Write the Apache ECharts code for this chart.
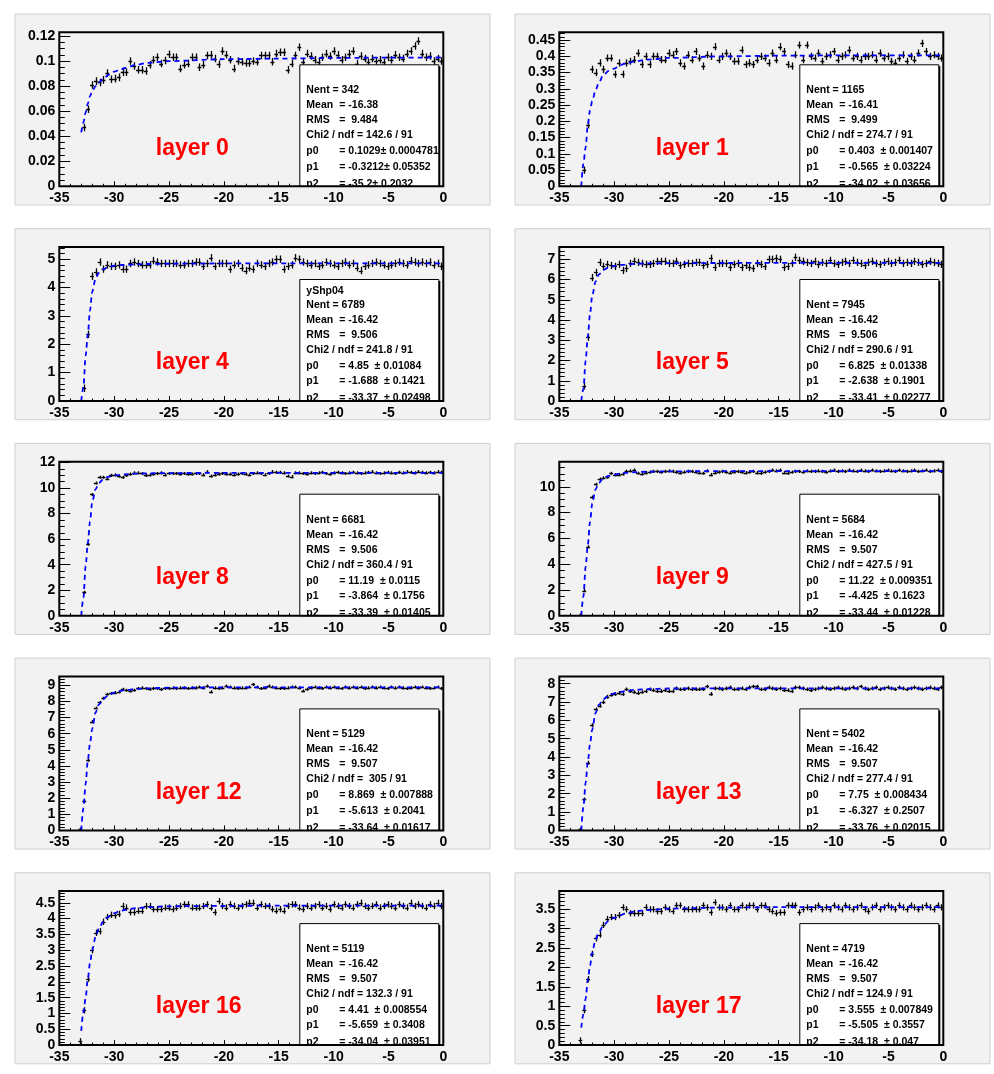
<!DOCTYPE html>
<html><head><meta charset="utf-8">
<script src="https://cdn.jsdelivr.net/npm/echarts@6/dist/echarts.min.js"></script>
<style>html,body{margin:0;padding:0;background:#fff}#c{width:994px;height:1074px}</style>
</head><body><div id="c"></div>
<script>
// ---------- histogram binning ----------
const binWidth = 0.35;
const firstBinCenter = -33.075;   // first listed bin (bins of 0.35 over [-35,0])

// ---------- panel titles ----------
const layerNames = ['layer 0','layer 1','layer 4','layer 5','layer 8','layer 9','layer 12','layer 13','layer 16','layer 17'];

// ---------- axis ranges ----------
const xTickLabels = ['-35','-30','-25','-20','-15','-10','-5','0'];
const yMax   = [0.123, 0.474, 5.43, 7.61, 12.07, 11.95, 9.55, 8.40, 4.87, 3.97];
const yStep  = [0.02, 0.05, 1, 1, 2, 2, 1, 1, 0.5, 0.5];
const yMinor = [4, 5, 5, 5, 4, 4, 5, 5, 5, 5];
const errBar = [0.003, 0.011, 0.13, 0.18, 0.12, 0.12, 0.09, 0.1, 0.1, 0.08];

// ---------- bin contents (bins from -33.075 to -0.175) ----------
const layer0Vals = [null,
 0.047,0.0615,0.081,0.084,0.083,0.085,0.0905,0.0855,0.086,0.087,
 0.091,0.091,0.1,0.096,0.093,0.093,0.092,0.097,0.101,0.103,
 0.098,0.1005,0.1055,0.103,0.103,0.094,0.097,0.098,0.103,0.103,
 0.095,0.097,0.1045,0.105,0.102,0.0975,0.108,0.105,0.101,0.094,
 0.1,0.0995,0.0985,0.0985,0.1,0.0995,0.1045,0.1045,0.1045,0.0995,
 0.106,0.107,0.107,0.093,0.098,0.1045,0.111,0.0995,0.106,0.104,
 0.101,0.099,0.103,0.106,0.104,0.108,0.105,0.101,0.103,0.106,
 0.108,0.098,0.104,0.102,0.099,0.102,0.1,0.101,0.099,0.103,
 0.101,0.105,0.103,0.102,0.106,0.108,0.112,0.116,0.106,0.103,
 0.104,0.1,0.102,0.1];
const layer1Vals = [null,
 0.05,0.19,0.36,0.35,0.38,0.36,0.395,0.395,0.345,0.38,
 0.345,0.38,0.385,0.39,0.41,0.375,0.4,0.375,0.4,0.4,
 0.39,0.39,0.41,0.405,0.415,0.38,0.37,0.405,0.39,0.415,
 0.395,0.37,0.405,0.4,0.43,0.39,0.4,0.41,0.4,0.385,
 0.385,0.42,0.375,0.38,0.375,0.39,0.4,0.395,0.38,0.41,
 0.39,0.43,0.415,0.375,0.37,0.405,0.435,0.39,0.435,0.4,
 0.395,0.41,0.385,0.4,0.405,0.415,0.39,0.4,0.405,0.42,
 0.395,0.4,0.39,0.4,0.4,0.405,0.39,0.41,0.395,0.4,
 0.385,0.38,0.395,0.405,0.385,0.4,0.39,0.41,0.44,0.415,
 0.4,0.405,0.4,0.395];
const layer4Vals = [null,
 0.45,2.35,4.4,4.55,4.9,4.65,4.8,4.75,4.75,4.8,
 4.65,4.65,4.85,4.9,4.85,4.8,4.8,4.8,4.95,4.9,
 4.85,4.85,4.85,4.85,4.85,4.8,4.8,4.85,4.85,4.9,
 4.9,4.75,4.85,5.05,4.75,4.85,4.85,4.85,4.65,4.8,
 4.85,4.7,4.6,4.7,4.65,4.85,4.8,4.75,4.85,4.9,
 5.0,5.0,4.65,4.75,4.8,5.05,5.0,4.9,4.85,4.8,
 4.85,4.75,4.8,4.9,4.85,4.8,4.75,4.85,4.9,4.8,
 4.85,4.7,4.6,4.75,4.8,4.85,4.9,4.85,4.8,4.75,
 4.8,4.85,4.9,4.85,4.8,4.95,4.9,4.85,4.9,4.85,
 4.9,4.8,4.85,4.75];
const layer5Vals = [null,
 0.75,3.15,6.1,6.35,6.85,6.65,6.75,6.7,6.65,6.75,
 6.45,6.55,6.8,6.9,6.85,6.8,6.75,6.75,6.8,6.9,
 6.9,6.9,6.8,6.8,6.9,6.7,6.75,6.8,6.8,6.85,
 6.85,6.7,6.75,7.05,6.6,6.8,6.8,6.8,6.6,6.75,
 6.8,6.6,6.7,6.6,6.55,6.8,6.75,6.65,7.0,7.0,
 7.05,7.0,6.6,6.65,6.8,7.1,6.95,6.9,6.85,6.8,
 6.9,6.75,6.85,6.8,6.95,6.8,6.75,6.85,6.9,6.8,
 6.95,6.85,6.8,6.7,6.85,6.9,6.8,6.75,6.85,6.9,
 6.8,6.85,6.95,6.8,6.85,6.8,6.9,6.85,6.75,6.8,
 6.9,6.85,6.8,6.75];
const layer8Vals = [null,
 1.83,5.6,9.5,10.4,10.85,10.85,10.75,11.0,11.05,10.95,
 10.85,11.0,11.1,11.2,11.2,11.15,11.0,11.05,11.1,11.15,
 11.2,11.05,11.15,11.15,11.15,11.1,11.15,11.1,11.1,11.15,
 11.15,11.05,11.3,10.95,11.05,11.1,11.15,11.1,11.1,11.05,
 11.1,11.15,11.1,11.05,11.15,11.2,11.15,11.05,11.15,11.3,
 11.25,11.25,11.2,10.95,10.9,11.2,11.2,11.15,11.1,11.2,
 11.15,11.2,11.25,11.15,11.1,11.2,11.25,11.2,11.15,11.2,
 11.25,11.2,11.15,11.2,11.25,11.3,11.2,11.15,11.2,11.25,
 11.2,11.15,11.25,11.2,11.3,11.25,11.2,11.3,11.25,11.2,
 11.25,11.2,11.3,11.25];
const layer9Vals = [0.05,
 1.95,5.35,9.2,10.2,10.6,10.7,10.75,11.05,10.95,10.95,
 11.0,11.2,11.25,11.3,11.05,11.0,11.1,11.15,11.2,11.2,
 11.15,11.2,11.25,11.2,11.15,11.1,11.15,11.2,11.2,11.15,
 11.1,11.05,11.25,10.95,11.1,11.15,11.2,11.15,11.1,11.15,
 11.2,11.15,11.1,11.15,11.2,11.1,11.05,11.15,11.2,11.3,
 11.25,11.3,11.1,11.05,11.15,11.2,11.2,11.15,11.25,11.2,
 11.2,11.25,11.2,11.15,11.25,11.3,11.2,11.25,11.2,11.3,
 11.25,11.2,11.3,11.25,11.2,11.3,11.25,11.2,11.25,11.3,
 11.25,11.2,11.3,11.25,11.2,11.25,11.3,11.2,11.25,11.3,
 11.2,11.25,11.3,11.2];
const layer12Vals = [0.08,
 1.8,4.35,6.75,7.6,7.95,8.2,8.45,8.5,8.55,8.6,
 8.75,8.7,8.65,8.7,8.8,8.85,8.8,8.75,8.8,8.8,
 8.75,8.8,8.8,8.85,8.8,8.85,8.85,8.8,8.85,8.85,
 8.9,8.85,8.95,8.6,8.85,8.8,8.85,8.95,8.9,8.85,
 8.8,8.85,8.85,8.9,9.05,8.9,8.8,8.85,8.95,8.9,
 8.85,8.8,8.8,8.85,8.9,8.9,8.85,8.65,8.75,8.85,
 8.9,8.85,8.8,8.9,8.85,8.9,8.85,8.8,8.9,8.85,
 8.9,8.85,8.9,8.8,8.85,8.9,8.85,8.9,8.85,8.8,
 8.9,8.85,8.9,8.85,8.8,8.85,8.9,8.85,8.9,8.85,
 8.8,8.85,8.9,8.8];
const layer13Vals = [0.05,
 1.7,3.7,5.75,6.6,6.8,7.0,7.3,7.4,7.45,7.5,
 7.45,7.7,7.6,7.55,7.5,7.55,7.6,7.7,7.65,7.6,
 7.6,7.65,7.6,7.6,7.75,7.7,7.7,7.75,7.7,7.7,
 7.7,7.7,7.85,7.45,7.75,7.75,7.7,7.75,7.8,7.7,
 7.7,7.75,7.7,7.8,7.85,7.85,7.7,7.7,7.8,7.75,
 7.7,7.75,7.65,7.65,7.6,7.8,7.8,7.75,7.7,7.65,
 7.7,7.75,7.8,7.75,7.7,7.75,7.8,7.75,7.7,7.75,
 7.8,7.75,7.85,7.75,7.7,7.75,7.8,7.7,7.75,7.8,
 7.75,7.7,7.8,7.75,7.7,7.75,7.8,7.75,7.7,7.75,
 7.8,7.75,7.7,7.8];
const layer16Vals = [0.12,
 1.1,2.1,3.0,3.55,3.6,3.9,4.05,4.12,4.1,4.15,
 4.4,4.35,4.2,4.2,4.25,4.25,4.4,4.4,4.3,4.3,
 4.3,4.35,4.35,4.3,4.35,4.4,4.45,4.45,4.35,4.35,
 4.35,4.4,4.45,4.35,4.2,4.55,4.4,4.35,4.45,4.4,
 4.35,4.4,4.45,4.5,4.5,4.35,4.45,4.4,4.4,4.3,
 4.25,4.3,4.25,4.4,4.45,4.45,4.35,4.3,4.4,4.35,
 4.4,4.45,4.35,4.4,4.3,4.45,4.4,4.35,4.45,4.4,
 4.35,4.45,4.5,4.4,4.35,4.4,4.45,4.35,4.4,4.45,
 4.4,4.35,4.45,4.4,4.35,4.5,4.4,4.45,4.4,4.35,
 4.45,4.4,4.5,4.4];
const layer17Vals = [0.12,
 0.9,1.7,2.35,2.75,2.85,3.1,3.25,3.3,3.3,3.35,
 3.55,3.5,3.4,3.4,3.4,3.4,3.55,3.5,3.5,3.45,
 3.45,3.55,3.5,3.45,3.6,3.6,3.5,3.5,3.5,3.5,
 3.5,3.6,3.55,3.42,3.68,3.55,3.55,3.5,3.6,3.5,
 3.5,3.6,3.55,3.6,3.6,3.5,3.6,3.6,3.5,3.45,
 3.4,3.42,3.42,3.6,3.6,3.6,3.42,3.5,3.55,3.5,
 3.55,3.6,3.5,3.55,3.5,3.6,3.55,3.5,3.6,3.55,
 3.5,3.55,3.6,3.5,3.45,3.55,3.6,3.5,3.55,3.6,
 3.55,3.5,3.6,3.55,3.5,3.6,3.55,3.5,3.55,3.6,
 3.55,3.5,3.6,3.55];

// ---------- fitted curves ----------
const fitX  = [-33.0,-32.8,-32.6,-32.4,-32.2,-32.0,-31.7,-31.4,-31.0,-30.5,-30.0,-29.5,-29.0,-28.0,-27.0,-25.0,-20.0,-15.0,-10.0,-5.0,-0.05];
const fit0  = [0.043,0.051,0.059,0.066,0.072,0.076,0.080,0.083,0.086,0.089,0.0915,0.093,0.0945,0.097,0.0985,0.1,0.1015,0.102,0.1025,0.1028,0.1029];
const fit1  = [0,0.07,0.12,0.19,0.234,0.262,0.295,0.318,0.342,0.355,0.362,0.372,0.378,0.385,0.39,0.395,0.4,0.402,0.403,0.403,0.403];
const fit4  = [0,0.5,1.6,2.35,3.2,3.85,4.3,4.52,4.65,4.73,4.77,4.79,4.8,4.82,4.83,4.84,4.85,4.85,4.85,4.85,4.85];
const fit5  = [0,0.6,2.0,3.2,4.3,5.2,5.9,6.25,6.47,6.6,6.67,6.71,6.74,6.78,6.8,6.81,6.82,6.825,6.825,6.825,6.825];
const fit8  = [0,1.4,3.9,5.7,7.4,8.9,9.9,10.4,10.7,10.9,10.98,11.04,11.08,11.13,11.16,11.18,11.19,11.19,11.19,11.19,11.19];
const fit9  = [0,1.5,3.8,5.5,7.3,8.7,9.8,10.3,10.65,10.85,10.95,11.03,11.08,11.14,11.17,11.2,11.22,11.22,11.22,11.22,11.22];
const fit12 = [0,1.4,2.9,4.35,5.4,6.3,7.3,7.8,8.15,8.4,8.55,8.65,8.7,8.77,8.81,8.85,8.865,8.869,8.869,8.869,8.869];
const fit13 = [0,1.3,2.6,3.75,4.7,5.5,6.4,6.85,7.15,7.35,7.47,7.55,7.6,7.67,7.71,7.74,7.75,7.75,7.75,7.75,7.75];
const fit16 = [0.45,1.05,1.5,2.1,2.6,3.0,3.42,3.68,3.9,4.07,4.17,4.23,4.28,4.33,4.36,4.39,4.405,4.41,4.41,4.41,4.41];
const fit17 = [0.45,0.8,1.2,1.7,2.05,2.38,2.72,2.9,3.08,3.2,3.28,3.34,3.39,3.45,3.48,3.52,3.545,3.555,3.555,3.555,3.555];

// ---------- statistics boxes ----------
const statName = ['','','yShp04','','','','','','',''];
const statNent = ['Nent = 342','Nent = 1165','Nent = 6789','Nent = 7945','Nent = 6681','Nent = 5684','Nent = 5129','Nent = 5402','Nent = 5119','Nent = 4719'];
const statMean = ['= -16.38','= -16.41','= -16.42','= -16.42','= -16.42','= -16.42','= -16.42','= -16.42','= -16.42','= -16.42'];
const statRms  = ['=  9.484','=  9.499','=  9.506','=  9.506','=  9.506','=  9.507','=  9.507','=  9.507','=  9.507','=  9.507'];
const statChi2 = ['Chi2 / ndf = 142.6 / 91','Chi2 / ndf = 274.7 / 91','Chi2 / ndf = 241.8 / 91','Chi2 / ndf = 290.6 / 91','Chi2 / ndf = 360.4 / 91','Chi2 / ndf = 427.5 / 91','Chi2 / ndf =  305 / 91','Chi2 / ndf = 277.4 / 91','Chi2 / ndf = 132.3 / 91','Chi2 / ndf = 124.9 / 91'];
const statP0 = ['= 0.1029\u00b1 0.0004781','= 0.403  \u00b1 0.001407','= 4.85  \u00b1 0.01084','= 6.825  \u00b1 0.01338','= 11.19  \u00b1 0.0115','= 11.22  \u00b1 0.009351','= 8.869  \u00b1 0.007888','= 7.75  \u00b1 0.008434','= 4.41  \u00b1 0.008554','= 3.555  \u00b1 0.007849'];
const statP1 = ['= -0.3212\u00b1 0.05352','= -0.565  \u00b1 0.03224','= -1.688  \u00b1 0.1421','= -2.638  \u00b1 0.1901','= -3.864  \u00b1 0.1756','= -4.425  \u00b1 0.1623','= -5.613  \u00b1 0.2041','= -6.327  \u00b1 0.2507','= -5.659  \u00b1 0.3408','= -5.505  \u00b1 0.3557'];
const statP2 = ['= -35.2\u00b1 0.2032','= -34.02  \u00b1 0.03656','= -33.37  \u00b1 0.02498','= -33.41  \u00b1 0.02277','= -33.39  \u00b1 0.01405','= -33.44  \u00b1 0.01228','= -33.64  \u00b1 0.01617','= -33.76  \u00b1 0.02015','= -34.04  \u00b1 0.03951','= -34.18  \u00b1 0.047'];

const allVals = [layer0Vals,layer1Vals,layer4Vals,layer5Vals,layer8Vals,layer9Vals,layer12Vals,layer13Vals,layer16Vals,layer17Vals];
const allFits = [fit0,fit1,fit4,fit5,fit8,fit9,fit12,fit13,fit16,fit17];

// ---------- build chart ----------
const FONT = '"Liberation Sans", Arial, Helvetica, sans-serif';
const PAD_FILL = '#f2f2f2';
const grids = [], xAxes = [], yAxes = [], series = [], graphics = [];

for (let i = 0; i < 10; i++) {
  const r = Math.floor(i / 2), c = i % 2;
  const fl = 59.3 + 500 * c, ft = 32.3 + 214.7 * r, fw = 384, fh = 154;
  const padX = 15 + 500 * c, padY = 14 + 214.7 * r;

  graphics.push({type:'rect', z:-5, shape:{x:padX, y:padY, width:475, height:191},
    style:{fill:PAD_FILL, stroke:'#cfcfcf', lineWidth:1}});

  grids.push({left:fl, top:ft, width:fw, height:fh, show:false, outerBoundsMode:'none', containLabel:false});

  xAxes.push({gridIndex:i, type:'value', min:-35, max:0, interval:5, position:'bottom',
    axisLine:{show:false, onZero:false}, splitLine:{show:false},
    axisTick:{show:true, inside:true, length:5, lineStyle:{color:'#000', width:1}},
    minorTick:{show:true, splitNumber:5, length:2.5, lineStyle:{color:'#000', width:1}},
    axisLabel:{color:'#000', fontSize:14, fontWeight:'bold', fontFamily:FONT, margin:5,
      formatter:(v)=>{ const k = Math.round((v + 35) / 5); return xTickLabels[k] !== undefined ? xTickLabels[k] : ''; }}});

  yAxes.push({gridIndex:i, type:'value', min:0, max:yMax[i], interval:yStep[i], position:'left',
    axisLine:{show:false, onZero:false}, splitLine:{show:false},
    axisTick:{show:true, inside:true, length:11, lineStyle:{color:'#000', width:1}},
    minorTick:{show:true, splitNumber:yMinor[i], length:5.5, lineStyle:{color:'#000', width:1}},
    axisLabel:{color:'#000', fontSize:14, fontWeight:'bold', fontFamily:FONT, margin:4, showMaxLabel:false}});

  const pts = [];
  allVals[i].forEach((v, k) => { if (v !== null) pts.push([firstBinCenter + k * binWidth, v, errBar[i]]); });

  series.push({type:'custom', xAxisIndex:i, yAxisIndex:i, z:2, clip:true, silent:true,
    data: pts,
    renderItem:(params, api) => {
      const x = api.value(0), y = api.value(1), e = api.value(2);
      const pL = api.coord([x - binWidth/2, y]), pR = api.coord([x + binWidth/2, y]);
      const pT = api.coord([x, y + e]), pB = api.coord([x, y - e]);
      const cx = Math.round(pT[0]) + 0.5, cy = Math.round(pL[1]) + 0.5;
      return {type:'group', children:[
        {type:'line', shape:{x1:pL[0], y1:cy, x2:pR[0], y2:cy}, style:{stroke:'#000', lineWidth:1.3}},
        {type:'line', shape:{x1:cx, y1:pT[1], x2:cx, y2:pB[1]}, style:{stroke:'#000', lineWidth:1.3}}
      ]};
    }});

  series.push({type:'line', xAxisIndex:i, yAxisIndex:i, z:3, silent:true, symbol:'none',
    smooth:0.3, smoothMonotone:'x', clip:true,
    data: fitX.map((x, k) => [x, allFits[i][k]]),
    lineStyle:{color:'#0000ff', width:1.8, type:[5,4]}});

  // stats box
  const bl = fl + 240, bt = ft + 32, bw = 139, bh = fh - 32;
  graphics.push({type:'rect', z:10, shape:{x:bl + 2, y:bt + 2, width:bw, height:bh}, style:{fill:'#000'}});
  graphics.push({type:'rect', z:10, shape:{x:bl + 0.5, y:bt + 0.5, width:bw, height:bh}, style:{fill:'#fff', stroke:'#000', lineWidth:1}});
  const tstyle = (txt, x, y) => ({type:'text', z:11, x:x, y:y,
    style:{text:txt, fill:'#000', font:'bold 10.5px ' + FONT, textVerticalAlign:'middle', verticalAlign:'middle'}});
  if (statName[i]) graphics.push(tstyle(statName[i], bl + 7, ft + 44));
  graphics.push(tstyle(statNent[i], bl + 7, ft + 58));
  graphics.push(tstyle('Mean', bl + 7, ft + 73));
  graphics.push(tstyle(statMean[i], bl + 40, ft + 73));
  graphics.push(tstyle('RMS', bl + 7, ft + 88));
  graphics.push(tstyle(statRms[i], bl + 40, ft + 88));
  graphics.push(tstyle(statChi2[i], bl + 7, ft + 103));
  graphics.push(tstyle('p0', bl + 7, ft + 119));
  graphics.push(tstyle(statP0[i], bl + 40, ft + 119));
  graphics.push(tstyle('p1', bl + 7, ft + 134.5));
  graphics.push(tstyle(statP1[i], bl + 40, ft + 134.5));
  graphics.push(tstyle('p2', bl + 7, ft + 151.5));
  graphics.push(tstyle(statP2[i], bl + 40, ft + 151.5));
  // clip stats box at frame bottom
  graphics.push({type:'rect', z:12, shape:{x:bl - 1, y:ft + fh + 0.5, width:bw + 5, height:4}, style:{fill:PAD_FILL}});
  // frame
  graphics.push({type:'rect', z:13, shape:{x:fl, y:ft, width:fw, height:fh}, style:{fill:'none', stroke:'#000', lineWidth:2}});
  // layer label
  graphics.push({type:'text', z:11, x:fl + 96.5, y:ft + 116,
    style:{text:layerNames[i], fill:'#ff0000', font:'bold 23px ' + FONT, textVerticalAlign:'middle', verticalAlign:'middle'}});
}

const chart = echarts.init(document.getElementById('c'), null, {renderer:'canvas', width:994, height:1074});
chart.setOption({
  backgroundColor:'#ffffff',
  animation:false,
  grid:grids, xAxis:xAxes, yAxis:yAxes, series:series,
  graphic:{elements:graphics}
});
</script></body></html>
